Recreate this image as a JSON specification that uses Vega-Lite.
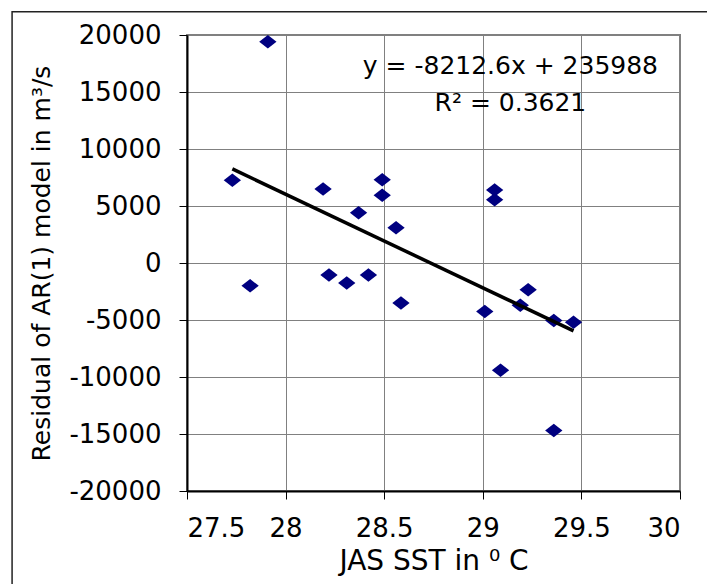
{
  "$schema": "https://vega.github.io/schema/vega-lite/v6.json",
  "autosize": {"type": "none"},
  "width": 493,
  "height": 456,
  "padding": {"left": 187, "top": 35, "right": 27, "bottom": 93},
  "background": "white",
  "config": {
    "view": {"stroke": "#808080", "strokeWidth": 2},
    "font": "DejaVu Sans",
    "axis": {
      "labelFont": "DejaVu Sans",
      "titleFont": "DejaVu Sans",
      "labelColor": "black",
      "titleColor": "black",
      "titleFontWeight": "normal",
      "grid": true,
      "gridColor": "#808080",
      "gridOpacity": 1,
      "gridWidth": 1,
      "domainColor": "black",
      "domainWidth": 2,
      "tickColor": "black",
      "tickSize": 8,
      "tickWidth": 1
    }
  },
  "datasets": {
    "points": [
      {"sst": 27.73, "residual": 7250},
      {"sst": 27.82, "residual": -2000},
      {"sst": 27.91, "residual": 19400},
      {"sst": 28.19, "residual": 6500},
      {"sst": 28.22, "residual": -1050},
      {"sst": 28.31, "residual": -1750},
      {"sst": 28.37, "residual": 4400},
      {"sst": 28.42, "residual": -1050},
      {"sst": 28.49, "residual": 7300},
      {"sst": 28.49, "residual": 5950},
      {"sst": 28.56, "residual": 3100},
      {"sst": 28.585, "residual": -3500},
      {"sst": 29.01, "residual": -4250},
      {"sst": 29.06, "residual": 6400},
      {"sst": 29.06, "residual": 5550},
      {"sst": 29.09, "residual": -9400},
      {"sst": 29.19, "residual": -3700},
      {"sst": 29.23, "residual": -2350},
      {"sst": 29.36, "residual": -5050},
      {"sst": 29.36, "residual": -14700},
      {"sst": 29.46, "residual": -5200}
    ],
    "trend": [
      {"sst": 27.73, "residual": 8253},
      {"sst": 29.46, "residual": -5955}
    ],
    "labels": [
      {"sst": 29.14, "residual": 17300, "text": "y = -8212.6x + 235988"},
      {"sst": 29.14, "residual": 14050, "text": "R² = 0.3621"}
    ]
  },
  "layer": [
    {
      "data": {"name": "points"},
      "mark": {"type": "point", "shape": "M-1,0L0,-0.78L1,0L0,0.78Z", "filled": true, "color": "#000080", "size": 300, "opacity": 1},
      "encoding": {
        "x": {
          "field": "sst", "type": "quantitative",
          "scale": {"domain": [27.5, 30], "nice": false, "zero": false},
          "axis": {
            "grid": true,
            "values": [27.5, 28, 28.5, 29, 29.5, 30],
            "labelExpr": "'' + datum.value",
            "labelFontSize": 26,
            "labelPadding": 16,
            "title": "JAS SST in ⁰ C",
            "titleFontSize": 28,
            "titlePadding": 6
          }
        },
        "y": {
          "field": "residual", "type": "quantitative",
          "scale": {"domain": [-20000, 20000], "nice": false, "zero": false},
          "axis": {
            "grid": true,
            "values": [-20000, -15000, -10000, -5000, 0, 5000, 10000, 15000, 20000],
            "labelExpr": "'' + datum.value",
            "labelFontSize": 26,
            "labelPadding": 18,
            "title": "Residual of AR(1) model in m³/s",
            "titleFontSize": 25,
            "titlePadding": 14
          }
        }
      }
    },
    {
      "data": {"values": [{}]},
      "mark": {"type": "rect", "fill": null, "fillOpacity": 0, "stroke": "#222222", "strokeWidth": 1.5, "clip": false},
      "encoding": {
        "x": {"datum": 26.613, "type": "quantitative"},
        "x2": {"datum": 30.4},
        "y": {"datum": 22050, "type": "quantitative"},
        "y2": {"datum": -32000}
      }
    },
    {
      "data": {"name": "trend"},
      "mark": {"type": "line", "color": "black", "strokeWidth": 3.5},
      "encoding": {
        "x": {"field": "sst", "type": "quantitative"},
        "y": {"field": "residual", "type": "quantitative"}
      }
    },
    {
      "data": {"name": "labels"},
      "mark": {"type": "text", "fontSize": 25, "font": "DejaVu Sans", "color": "black", "align": "center", "baseline": "middle"},
      "encoding": {
        "x": {"field": "sst", "type": "quantitative"},
        "y": {"field": "residual", "type": "quantitative"},
        "text": {"field": "text"}
      }
    }
  ]
}
